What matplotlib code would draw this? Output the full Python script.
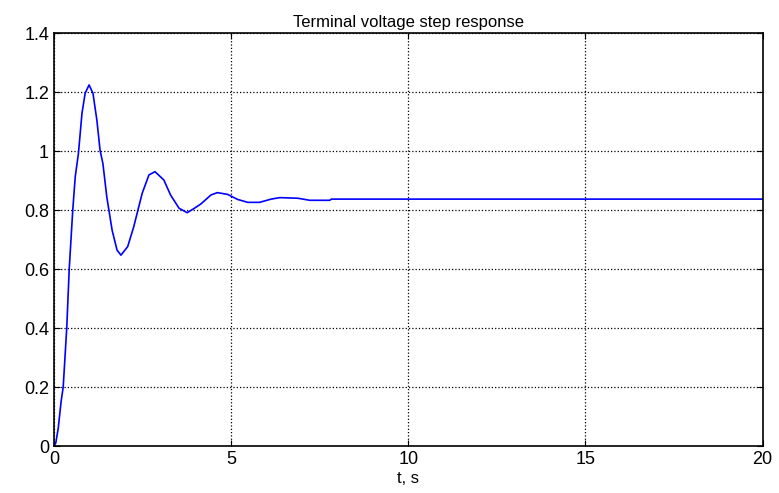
import matplotlib
matplotlib.use("Agg")
import matplotlib.pyplot as plt

# step response samples
t = [0.0, 0.05, 0.12, 0.2, 0.26, 0.36, 0.43, 0.53, 0.60, 0.69, 0.79, 0.88, 0.99,
     1.10, 1.21, 1.30, 1.38, 1.49, 1.64, 1.78, 1.89, 2.08, 2.25, 2.49, 2.68, 2.85,
     3.10, 3.29, 3.53, 3.76, 3.95, 4.14, 4.43, 4.61,
     4.90, 5.18, 5.47, 5.8, 6.13, 6.37, 6.88, 7.22, 7.78, 7.83, 10.0, 15.0, 20.0]
v = [0.0, 0.01, 0.06, 0.15, 0.2, 0.4, 0.6, 0.8, 0.913, 0.992, 1.128, 1.196, 1.224,
     1.196, 1.105, 1.003, 0.958, 0.845, 0.732, 0.664, 0.647, 0.676, 0.743, 0.857, 0.919, 0.93,
     0.902, 0.851, 0.806, 0.791, 0.805, 0.82, 0.851, 0.859,
     0.853, 0.836, 0.826, 0.826, 0.837, 0.842, 0.840, 0.833, 0.833, 0.837, 0.837, 0.837, 0.837]

xticks = [0, 5, 10, 15, 20]
yticks = [0, 0.2, 0.4, 0.6, 0.8, 1.0, 1.2, 1.4]
ylabels = ["0", "0.2", "0.4", "0.6", "0.8", "1", "1.2", "1.4"]

plt.rcParams['font.family'] = ['Liberation Sans', 'DejaVu Sans']

fig = plt.figure(figsize=(7.79, 4.93), dpi=100)
ax = fig.add_axes([0.0693, 0.0953, 0.9097, 0.8377])

ax.plot(t, v, color='#0000ff', linewidth=1.2)

ax.set_xlim(0, 20)
ax.set_ylim(0, 1.4)
ax.set_xticks(xticks)
ax.set_yticks(yticks)
ax.set_yticklabels(ylabels)
ax.tick_params(direction='in', labelsize=13, length=4, width=0.8, top=True, right=True)
ax.grid(True, color='black', linestyle=':', linewidth=0.9)
for s in ax.spines.values():
    s.set_linewidth(1.2)

ax.set_title("Terminal voltage step response", fontsize=12, pad=4)
ax.set_xlabel("t, s", fontsize=12, labelpad=2)

fig.savefig("out.png", dpi=100)
